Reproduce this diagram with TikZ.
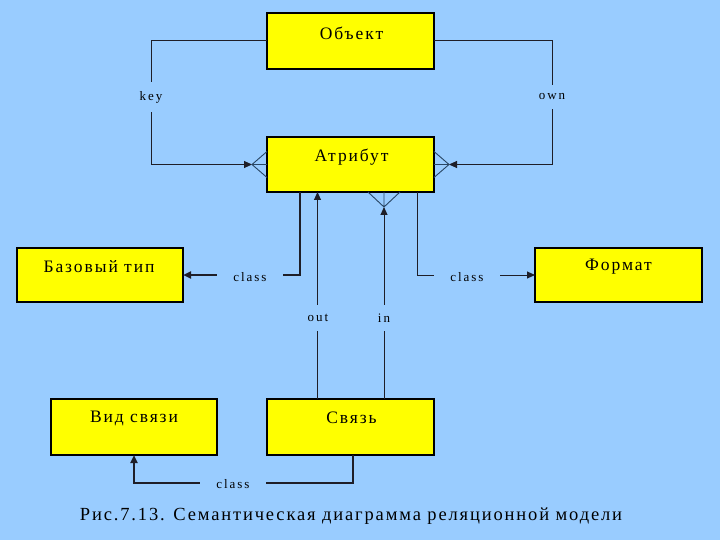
\documentclass[tikz,border=0pt]{standalone}
\usepackage{fontspec}
\setmainfont{Liberation Serif}
\newfontfamily\boxfont[LetterSpace=11]{Liberation Serif}
\newfontfamily\capfont[LetterSpace=10]{Liberation Serif}
\newfontfamily\labfont[LetterSpace=15]{Liberation Serif}
\usetikzlibrary{arrows.meta}
\definecolor{bg}{RGB}{153,204,255}
\definecolor{boxy}{RGB}{255,255,0}
\definecolor{ln}{RGB}{30,30,40}
\definecolor{foot}{RGB}{40,70,100}
\tikzset{
  ent/.style={draw=black, line width=1.8pt, fill=boxy, minimum width=#1, minimum height=56pt, inner sep=0pt, outer sep=0pt},
  ent/.default=167pt,
  conn/.style={draw=ln, line width=1pt},
  thk/.style={draw=ln, line width=2pt},
  footln/.style={draw=foot, line width=0.9pt},
  tip/.style={-{Triangle[length=8pt,width=7pt]}},
  vlab/.style={fill=bg, inner xsep=2pt, inner ysep=9pt, font=\labfont\fontsize{13}{15}\selectfont},
  hlab/.style={fill=bg, inner xsep=16pt, inner ysep=2pt, font=\labfont\fontsize{13}{15}\selectfont},
  btxt/.style={font=\boxfont\fontsize{17.5}{19}\selectfont},
}
\begin{document}
\begin{tikzpicture}[x=1pt,y=-1pt]
\fill[bg] (0,0) rectangle (720,540);
\useasboundingbox (0,0) rectangle (720,540);
% boxes
\node[ent, minimum height=56pt] (obj) at (350.5,41) {};
\node[ent, minimum height=55pt] (attr) at (350.5,164.5) {};
\node[ent=166pt, minimum height=54pt] (base) at (100,275) {};
\node[ent, minimum height=54pt] (fmt) at (618.5,275) {};
\node[ent=166pt] (kind) at (134,427) {};
\node[ent] (link) at (350.5,427) {};
% box texts
\node[btxt] (tobj) at (351.5,33) {Объект};
\node[btxt] (tattr) at (351.5,157) {Атрибут};
\node[btxt] (tbase) at (99,267) {Базовый тип};
\node[btxt] (tfmt) at (618.5,267) {Формат};
\node[btxt] (tkind) at (134,418) {Вид связи};
\node[btxt] (tlink) at (351.5,418) {Связь};
% crow's feet
\coordinate (lap) at ([xshift=-15pt]attr.west);
\coordinate (rap) at ([xshift=15pt]attr.east);
\coordinate (bap) at ([xshift=33.5pt,yshift=-15pt]attr.south);
\draw[footln] (lap) -- ([yshift=13pt]attr.west) (lap) -- (attr.west) (lap) -- ([yshift=-13pt]attr.west);
\draw[footln] (rap) -- ([yshift=13pt]attr.east) (rap) -- (attr.east) (rap) -- ([yshift=-13pt]attr.east);
\draw[footln] (bap) -- ([xshift=17.5pt]attr.south) (bap) -- ([xshift=33.5pt]attr.south) (bap) -- ([xshift=49.5pt]attr.south);
% connectors
\draw[conn,tip] (obj.west) -- ++(-116,0) |- (lap);
\draw[conn,tip] (obj.east) -- ++(118,0) |- (rap);
\draw[thk,tip] ([xshift=-50.5pt]attr.south) |- (base.east);
\draw[conn,tip] ([xshift=66.5pt]attr.south) |- (fmt.west);
\draw[conn,tip] ([xshift=-33pt]link.north) -- ([xshift=-33pt]attr.south);
\draw[conn,tip] ([xshift=33.5pt]link.north) -- (bap);
\draw[thk,tip] ([xshift=2pt]link.south) -- ++(0,28) -| (kind.south);
% labels
\node[vlab] (lkey) at (151,97) {key};
\node[vlab] (lown) at (552,97) {own};
\node[hlab] (lc1) at (250,277) {class};
\node[hlab] (lc2) at (467,277) {class};
\node[vlab] (lout) at (318,318) {out};
\node[vlab] (lin) at (384,318) {in};
\node[hlab] (lc3) at (233,484) {class};
% caption
\node[font=\capfont\fontsize{18.5}{20}\selectfont] (cap) at (351,516) {Рис.7.13. Семантическая диаграмма реляционной модели};
\end{tikzpicture}
\end{document}
